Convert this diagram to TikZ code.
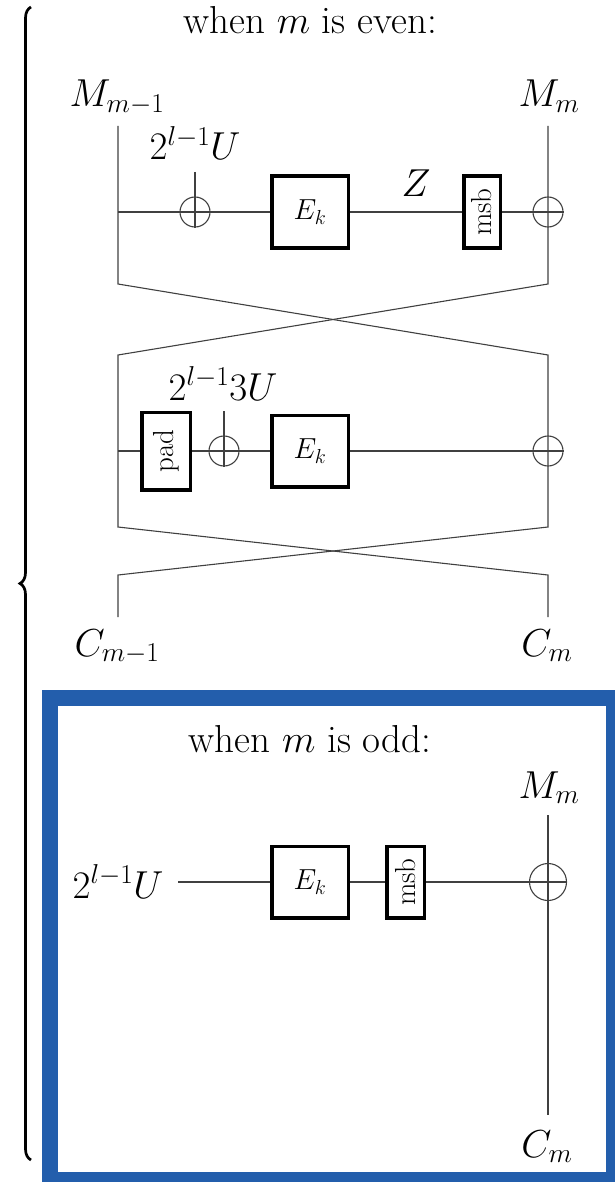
\RequirePackage{fix-cm}
\documentclass[tikz,border=0pt]{standalone}
\usetikzlibrary{decorations.pathreplacing}
\definecolor{frameblue}{RGB}{35,94,172}
\begin{document}
\begin{tikzpicture}[x=1pt,y=-1pt,
  wire/.style={line width=1.1pt, draw=black!75},
  blk/.style={draw, line width=3.5pt, inner sep=0pt, font=\fontsize{29}{33}\selectfont},
  xorn/.style={draw=black!75, line width=1.1pt, circle, minimum size=30pt, inner sep=0pt},
  lbl/.style={font=\fontsize{39}{45}\selectfont, inner sep=0pt, anchor=base},
  bracestyle/.style={line width=2.7pt, decorate, decoration={brace, amplitude=11pt}}
]
\useasboundingbox (0,0) rectangle (615,1182);

% brace
\coordinate (brb) at (31,1160);
\coordinate (brt) at (31,7);
\draw[bracestyle] (brb) -- (brt);

% ---------- even ----------
\node[lbl] (teven) at (310,34) {when $m$ is even:};
\node[lbl] (Mm1) at (117,107) {$M_{m-1}$};
\node[lbl] (Mm) at (549,107) {$M_m$};
\node[lbl] (U1) at (195,160) {$2^{l-1}U$};
\node[lbl] (Z) at (416,197) {$Z$};

\node[blk, minimum width=76.5pt, minimum height=71.5pt] (E1) at (310,212) {$E_k$};
\node[blk, minimum width=36.5pt, minimum height=71.5pt] (msb1) at (482,212) {\rotatebox{90}{msb}};
\node[xorn] (x1) at (195,212) {};
\node[xorn] (x2) at (548,212) {};

\coordinate (L1top) at (118,126);
\coordinate (L1mid) at (118,212);
\coordinate (L1bot) at (118,284);
\coordinate (R1top) at (548,126);
\coordinate (R1bot) at (548,284);
\coordinate (u1) at (195,172);

\coordinate (L2top) at (118,355);
\coordinate (L2mid) at (118,451);
\coordinate (L2bot) at (118,527);
\coordinate (R2top) at (548,355);
\coordinate (R2bot) at (548,527);
\coordinate (u3) at (224,411);

\coordinate (L3top) at (118,575);
\coordinate (L3bot) at (118,617);
\coordinate (R3top) at (548,575);
\coordinate (R3bot) at (548,617);

\draw[wire] (L1top) -- (L1bot) -- (R2top) -- (R2bot) -- (L3top) -- (L3bot);
\draw[wire] (R1top) -- (R1bot) -- (L2top) -- (L2bot) -- (R3top) -- (R3bot);
\draw[wire] (L1mid) -- (x1.center) -- (E1);
\draw[wire] (E1) -- (msb1);
\draw[wire] (msb1) -- (x2.east);
\draw[wire] (u1) -- (x1.south);

\node[lbl] (U3) at (223,400) {$2^{l-1}3U$};
\node[blk, minimum width=48.5pt, minimum height=77.5pt] (pad) at (166,451) {\rotatebox{90}{pad}};
\node[blk, minimum width=76.5pt, minimum height=71.5pt] (E2) at (310,451) {$E_k$};
\node[xorn] (x3) at (224,451) {};
\node[xorn] (x4) at (548,451) {};
\draw[wire] (L2mid) -- (pad);
\draw[wire] (pad) -- (x3.center) -- (E2);
\draw[wire] (E2) -- (x4.east);
\draw[wire] (u3) -- (x3.south);

\node[lbl] (Cm1) at (117,656) {$C_{m-1}$};
\node[lbl] (Cm) at (547,656) {$C_m$};

% ---------- odd ----------
\draw[frameblue, line width=16pt] (50,698) rectangle (614,1180);
\node[lbl] (todd) at (310,752) {when $m$ is odd:};
\node[lbl] (Mmo) at (549,798) {$M_m$};
\node[lbl] (U5) at (118,898) {$2^{l-1}U$};
\node[lbl] (Cmo) at (547,1157) {$C_m$};
\node[blk, minimum width=76.5pt, minimum height=71.5pt] (E3) at (310,882) {$E_k$};
\node[blk, minimum width=37.5pt, minimum height=71.5pt] (msb2) at (405.5,882) {\rotatebox{90}{msb}};
\node[xorn, minimum size=37pt] (x5) at (548,882) {};
\coordinate (in5) at (178,882);
\coordinate (V5top) at (548,815);
\coordinate (V5bot) at (548,1115);
\draw[wire] (in5) -- (E3);
\draw[wire] (E3) -- (msb2);
\draw[wire] (msb2) -- (x5.east);
\draw[wire] (V5top) -- (V5bot);
\end{tikzpicture}
\end{document}
